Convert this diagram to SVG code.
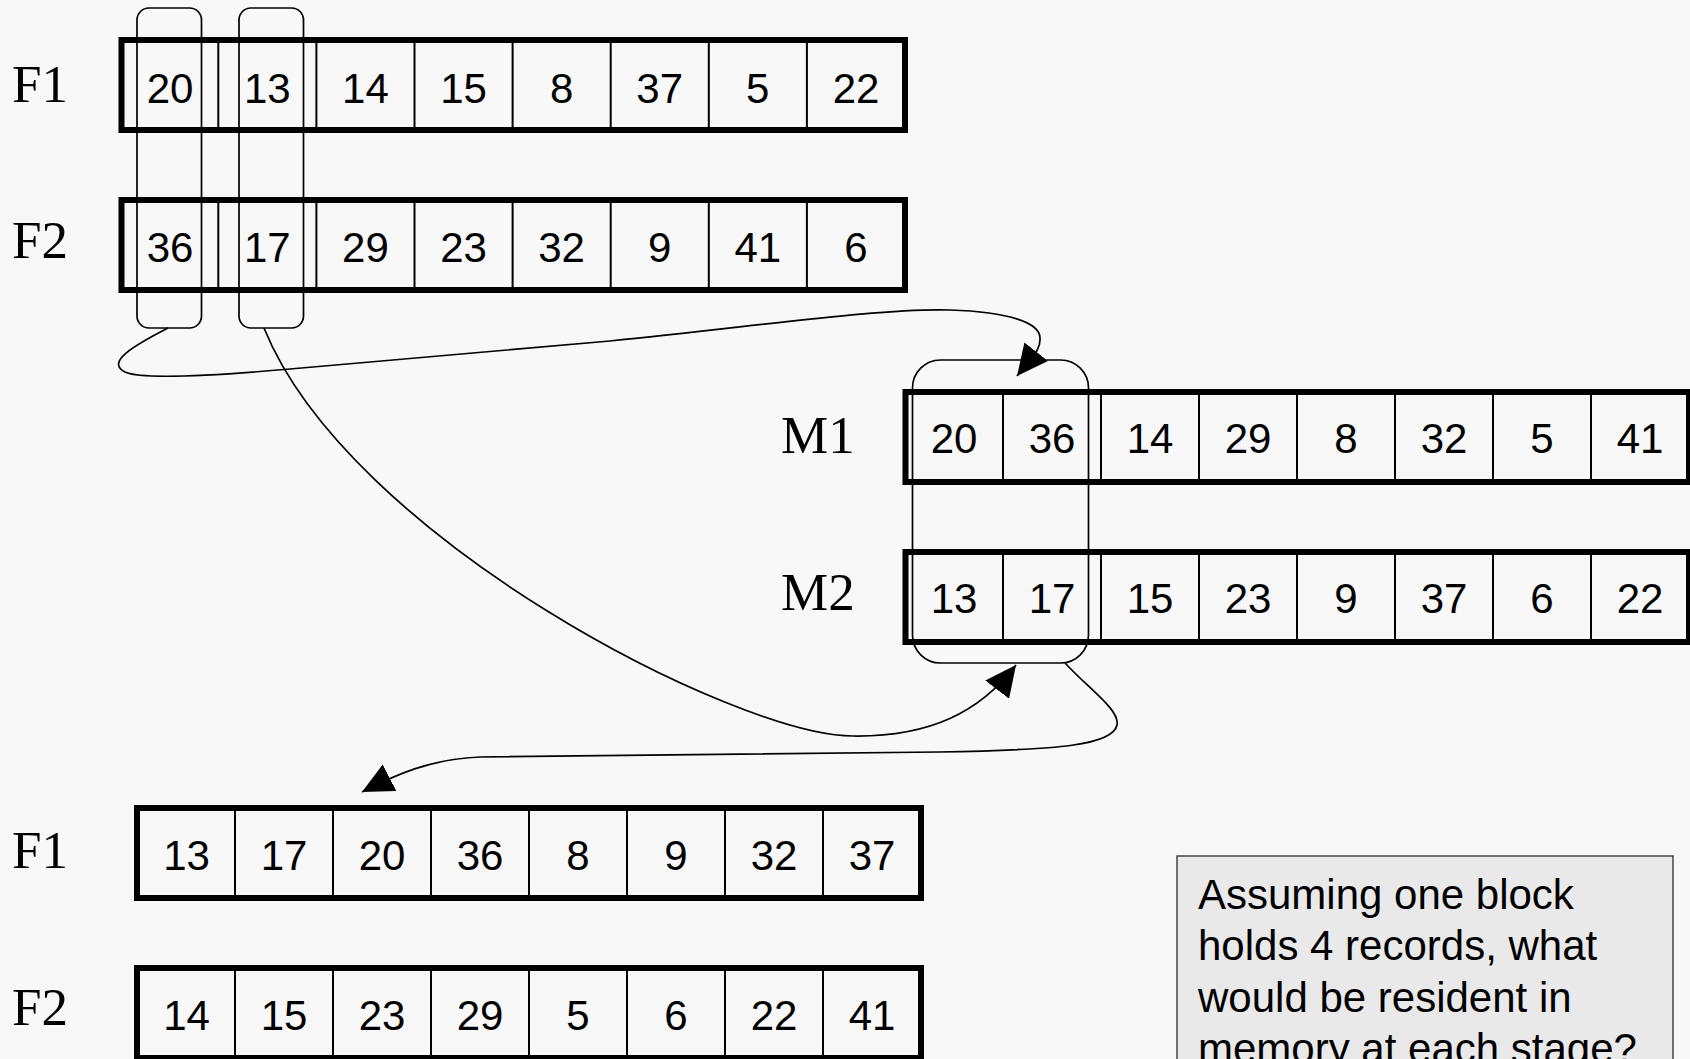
<svg xmlns="http://www.w3.org/2000/svg" width="1690" height="1059" viewBox="0 0 1690 1059">
<style>
.bg{fill:#f8f8f8}
.outer{fill:none;stroke:#000;stroke-width:6}
.div{stroke:#000;stroke-width:2}
.num{font-family:"Liberation Sans",Arial,sans-serif;font-size:42px;fill:#000;text-anchor:middle}
.lbl{font-family:"Liberation Serif","Times New Roman",serif;font-size:53px;fill:#000}
.rr{fill:none;stroke:#000;stroke-width:1.7}
.conn{fill:none;stroke:#000;stroke-width:1.7;marker-end:url(#ah)}
.note{fill:#e9e9e9;stroke:#444;stroke-width:1.5}
.ntxt{font-family:"Liberation Sans",Arial,sans-serif;font-size:42px;fill:#000}
</style>
<defs>
<marker id="ah" markerUnits="userSpaceOnUse" markerWidth="31" markerHeight="31" viewBox="0 0 30 30" refX="30" refY="15" orient="auto">
<path d="M0,0.5 L30,15 L0,29.5 z" fill="#000"/>
</marker>
</defs>
<rect class="bg" x="0" y="0" width="1690" height="1059"/>

<g id="row-F1-top">
<text class="lbl" x="12" y="102">F1</text>
<rect class="outer" x="121.5" y="40" width="783.5" height="90"/>
<path class="div" d="M218.3,40V130M316.4,40V130M414.5,40V130M512.6,40V130M610.7,40V130M708.8,40V130M806.9,40V130"/>
<text class="num" x="170" y="102.5">20</text>
<text class="num" x="267.3" y="102.5">13</text>
<text class="num" x="365.4" y="102.5">14</text>
<text class="num" x="463.5" y="102.5">15</text>
<text class="num" x="561.6" y="102.5">8</text>
<text class="num" x="659.7" y="102.5">37</text>
<text class="num" x="757.8" y="102.5">5</text>
<text class="num" x="856" y="102.5">22</text>
</g>

<g id="row-F2-top">
<text class="lbl" x="12" y="258">F2</text>
<rect class="outer" x="121.5" y="200" width="783.5" height="90"/>
<path class="div" d="M218.3,200V290M316.4,200V290M414.5,200V290M512.6,200V290M610.7,200V290M708.8,200V290M806.9,200V290"/>
<text class="num" x="170" y="262">36</text>
<text class="num" x="267.3" y="262">17</text>
<text class="num" x="365.4" y="262">29</text>
<text class="num" x="463.5" y="262">23</text>
<text class="num" x="561.6" y="262">32</text>
<text class="num" x="659.7" y="262">9</text>
<text class="num" x="757.8" y="262">41</text>
<text class="num" x="856" y="262">6</text>
</g>

<g id="group-F-first">
<rect class="rr" x="137" y="8" width="64.5" height="320" rx="12" ry="12"/>
</g>
<g id="group-F-second">
<rect class="rr" x="239" y="8" width="64.5" height="320" rx="12" ry="12"/>
</g>

<g id="row-M1">
<text class="lbl" x="781" y="453">M1</text>
<rect class="outer" x="905.5" y="392" width="783.5" height="90"/>
<path class="div" d="M1003,392V482M1101,392V482M1199,392V482M1297,392V482M1395,392V482M1493,392V482M1591,392V482"/>
<text class="num" x="954" y="453">20</text>
<text class="num" x="1052" y="453">36</text>
<text class="num" x="1150" y="453">14</text>
<text class="num" x="1248" y="453">29</text>
<text class="num" x="1346" y="453">8</text>
<text class="num" x="1444" y="453">32</text>
<text class="num" x="1542" y="453">5</text>
<text class="num" x="1640" y="453">41</text>
</g>

<g id="row-M2">
<text class="lbl" x="781" y="610">M2</text>
<rect class="outer" x="905.5" y="552" width="783.5" height="90"/>
<path class="div" d="M1003,552V642M1101,552V642M1199,552V642M1297,552V642M1395,552V642M1493,552V642M1591,552V642"/>
<text class="num" x="954" y="613">13</text>
<text class="num" x="1052" y="613">17</text>
<text class="num" x="1150" y="613">15</text>
<text class="num" x="1248" y="613">23</text>
<text class="num" x="1346" y="613">9</text>
<text class="num" x="1444" y="613">37</text>
<text class="num" x="1542" y="613">6</text>
<text class="num" x="1640" y="613">22</text>
</g>

<g id="group-M">
<rect class="rr" x="912.5" y="360" width="176" height="303" rx="28" ry="28"/>
</g>

<g id="row-F1-bottom">
<text class="lbl" x="12" y="868">F1</text>
<rect class="outer" x="137" y="808" width="784" height="90"/>
<path class="div" d="M235,808V898M333,808V898M431,808V898M529,808V898M627,808V898M725,808V898M823,808V898"/>
<text class="num" x="186.5" y="870">13</text>
<text class="num" x="284" y="870">17</text>
<text class="num" x="382" y="870">20</text>
<text class="num" x="480" y="870">36</text>
<text class="num" x="578" y="870">8</text>
<text class="num" x="676" y="870">9</text>
<text class="num" x="774" y="870">32</text>
<text class="num" x="872" y="870">37</text>
</g>

<g id="row-F2-bottom">
<text class="lbl" x="12" y="1025">F2</text>
<rect class="outer" x="137" y="968" width="784" height="90"/>
<path class="div" d="M235,968V1058M333,968V1058M431,968V1058M529,968V1058M627,968V1058M725,968V1058M823,968V1058"/>
<text class="num" x="186.5" y="1030">14</text>
<text class="num" x="284" y="1030">15</text>
<text class="num" x="382" y="1030">23</text>
<text class="num" x="480" y="1030">29</text>
<text class="num" x="578" y="1030">5</text>
<text class="num" x="676" y="1030">6</text>
<text class="num" x="774" y="1030">22</text>
<text class="num" x="872" y="1030">41</text>
</g>

<g id="connectors">
<path class="conn" d="M168,328 C135,345 105,362 125,372 C140,379 200,377 290,369 L610,341 C760,326 880,308 950,310 C1010,312 1040,323 1040,338 C1041,350 1032,357 1017,376"/>
<path class="conn" d="M264,328 C349,538 737,736 853,736 C930,737 980,712 1016,665"/>
<path class="conn" d="M1065,663 C1090,690 1120,710 1117,725 C1113,745 1060,750 939,752 L480,757 C430,759 395,775 362,792"/>
</g>

<g id="note">
<rect class="note" x="1177" y="856" width="496" height="220"/>
<text class="ntxt" x="1198" y="909">Assuming one block</text>
<text class="ntxt" x="1198" y="960">holds 4 records, what</text>
<text class="ntxt" x="1198" y="1011.5">would be resident in</text>
<text class="ntxt" x="1198" y="1062.5">memory at each stage?</text>
</g>
</svg>
